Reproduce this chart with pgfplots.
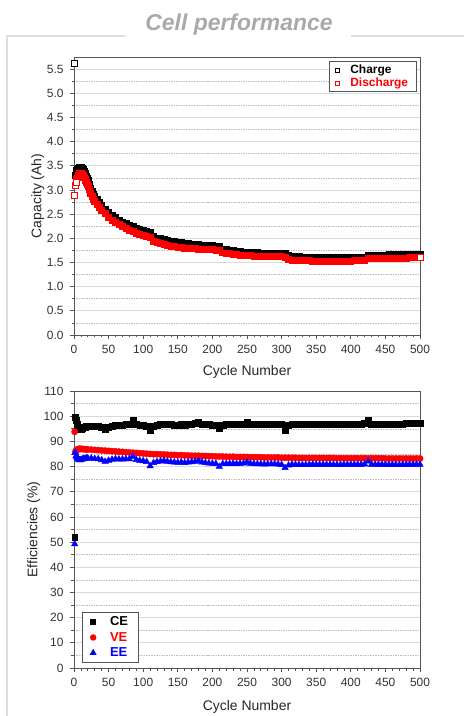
\documentclass[border=0pt]{standalone}
\usepackage{pgfplots}
\pgfplotsset{compat=1.18}
\usepackage{pgfplotstable}
\usepackage{fontspec}
\setmainfont{Liberation Sans}
\definecolor{framegray}{HTML}{DDDDDD}
\definecolor{titlegray}{HTML}{A9A9A9}
\definecolor{axgray}{HTML}{555555}
\definecolor{tickgray}{HTML}{333333}

\pgfplotstableread{
cycle charge discharge
1 5.62 2.89
2 3.30 3.10
3 3.36 3.16
4 3.40 3.22
5 3.43 3.27
6 3.45 3.31
7 3.46 3.33
8 3.47 3.35
9 3.47 3.35
10 3.47 3.35
11 3.46 3.34
12 3.45 3.33
13 3.43 3.31
14 3.41 3.29
15 3.38 3.26
16 3.35 3.23
17 3.32 3.20
18 3.28 3.16
19 3.24 3.12
20 3.20 3.08
22 3.12 3.01
24 3.04 2.94
26 2.97 2.87
28 2.91 2.81
30 2.86 2.76
33 2.80 2.70
36 2.74 2.64
40 2.68 2.58
45 2.61 2.51
50 2.54 2.44
55 2.48 2.38
60 2.43 2.33
65 2.38 2.28
70 2.34 2.24
75 2.31 2.21
80 2.27 2.17
85 2.24 2.14
90 2.21 2.11
95 2.19 2.09
100 2.17 2.07
105 2.15 2.05
110 2.12 2.02
115 2.04 1.94
120 2.01 1.91
125 1.99 1.89
130 1.97 1.87
135 1.95 1.86
140 1.94 1.84
145 1.93 1.83
150 1.92 1.82
155 1.91 1.81
160 1.90 1.80
165 1.89 1.80
170 1.88 1.79
175 1.87 1.79
180 1.87 1.78
185 1.86 1.78
190 1.86 1.77
195 1.85 1.77
200 1.85 1.77
205 1.84 1.76
210 1.84 1.76
215 1.78 1.70
220 1.77 1.69
225 1.76 1.68
230 1.75 1.67
235 1.74 1.66
240 1.73 1.65
245 1.72 1.65
250 1.72 1.64
255 1.71 1.64
260 1.71 1.63
265 1.71 1.63
270 1.70 1.63
275 1.70 1.62
280 1.70 1.62
285 1.70 1.62
290 1.70 1.62
295 1.70 1.62
300 1.70 1.62
305 1.69 1.61
310 1.64 1.56
315 1.63 1.55
320 1.62 1.55
325 1.62 1.54
330 1.61 1.54
335 1.61 1.54
340 1.60 1.54
345 1.60 1.53
350 1.60 1.53
355 1.60 1.53
360 1.60 1.53
365 1.60 1.53
370 1.60 1.53
375 1.60 1.53
380 1.60 1.53
385 1.60 1.53
390 1.60 1.53
395 1.60 1.53
400 1.60 1.53
405 1.60 1.54
410 1.60 1.54
415 1.60 1.54
420 1.61 1.54
425 1.65 1.58
430 1.65 1.58
435 1.65 1.58
440 1.65 1.58
445 1.65 1.58
450 1.65 1.58
455 1.66 1.58
460 1.66 1.59
465 1.66 1.59
470 1.66 1.59
475 1.66 1.59
480 1.67 1.59
485 1.67 1.60
490 1.67 1.60
495 1.67 1.60
500 1.67 1.60
}\captable

\pgfplotstableread{
cycle CE VE EE
1 52.0 93.8 49.2
2 99.5 85.8 85.6
3 98.5 86.4 84.2
4 97.0 86.6 83.8
5 96.0 86.8 83.3
6 95.5 86.9 83.0
7 95.2 87.0 82.8
8 95.0 87.0 82.6
9 94.9 87.0 82.6
10 95.0 87.0 82.7
12 95.3 87.0 82.9
14 95.6 86.9 83.1
16 95.8 86.9 83.2
18 96.0 86.8 83.3
20 96.0 86.8 83.3
25 96.1 86.7 83.3
30 96.0 86.6 83.1
35 96.0 86.5 83.0
40 95.6 86.4 82.6
45 95.0 86.3 82.0
50 95.6 86.2 82.4
55 96.2 86.1 82.8
60 96.5 86.0 83.0
65 96.5 85.9 82.9
70 96.6 85.8 82.9
75 96.8 85.7 83.0
80 97.0 85.6 83.0
85 98.3 85.5 84.0
90 96.8 85.4 82.7
95 96.6 85.3 82.4
100 96.5 85.2 82.2
105 96.2 85.1 81.9
110 94.4 85.0 80.2
115 96.0 84.9 81.5
120 96.5 84.9 81.9
125 96.8 84.8 82.1
130 97.0 84.8 82.3
135 96.8 84.7 82.0
140 96.7 84.6 81.8
145 96.6 84.6 81.7
150 96.6 84.5 81.6
155 96.7 84.5 81.7
160 96.6 84.4 81.5
165 96.8 84.4 81.7
170 97.0 84.3 81.8
175 97.3 84.3 82.0
180 97.7 84.3 82.3
185 97.0 84.2 81.7
190 96.8 84.2 81.5
195 96.7 84.1 81.3
200 96.6 84.1 81.2
205 96.5 84.0 81.1
210 95.3 84.0 80.0
215 96.5 84.0 81.1
220 96.7 83.9 81.1
225 96.8 83.9 81.2
230 96.8 83.9 81.2
235 96.8 83.8 81.1
240 96.9 83.8 81.2
245 97.0 83.8 81.3
250 97.6 83.8 81.8
255 97.0 83.7 81.2
260 96.9 83.7 81.1
265 96.8 83.7 81.0
270 96.8 83.7 81.0
275 96.8 83.6 80.9
280 96.9 83.6 81.0
285 96.9 83.6 81.0
290 96.9 83.6 81.0
295 96.8 83.6 80.9
300 96.7 83.5 80.7
305 94.6 83.5 79.5
310 96.4 83.5 80.5
315 96.8 83.5 80.8
320 96.8 83.5 80.8
325 96.8 83.4 80.7
330 96.8 83.4 80.7
335 96.8 83.4 80.7
340 96.9 83.4 80.8
345 96.9 83.4 80.8
350 96.9 83.4 80.8
355 96.9 83.4 80.8
360 96.9 83.4 80.8
365 96.9 83.4 80.8
370 96.9 83.4 80.8
375 96.9 83.4 80.8
380 96.9 83.3 80.7
385 96.9 83.3 80.7
390 97.0 83.3 80.8
395 97.0 83.3 80.8
400 97.0 83.3 80.8
405 97.0 83.3 80.8
410 97.0 83.3 80.8
415 97.0 83.3 80.8
420 97.1 83.3 80.9
425 98.6 83.3 82.1
430 97.0 83.3 80.8
435 97.0 83.3 80.8
440 97.0 83.3 80.8
445 97.0 83.3 80.8
450 97.0 83.2 80.7
455 97.0 83.2 80.7
460 97.0 83.2 80.7
465 97.0 83.2 80.7
470 97.0 83.2 80.7
475 97.0 83.2 80.7
480 97.1 83.2 80.8
485 97.1 83.2 80.8
490 97.1 83.2 80.8
495 97.1 83.2 80.8
500 97.1 83.2 80.8
}\efftable

\pgfplotsset{
  cellstyle/.style={
    scale only axis, width=346bp, clip=false,
    xmin=0, xmax=500, xtick={0,50,...,500}, minor x tick num=4,
    tick pos=left, tick align=outside,
    major tick length=4bp, minor tick length=2.5bp,
    axis line style={axgray, line width=0.8pt},
    every tick/.style={axgray, line width=0.7pt},
    ymajorgrids, yminorgrids,
    major grid style={black!15, line width=0.8pt},
    minor grid style={black!25, line width=0.5pt, dash pattern=on 1.5pt off 1pt},
    tick label style={font=\fontsize{12}{14}\selectfont, text=tickgray},
    xticklabel style={yshift=-3bp},
    yticklabel style={xshift=-3bp},
    /pgf/number format/assume math mode=true,
    xlabel={Cycle Number},
    label style={font=\fontsize{14}{16}\selectfont, text=black!85},
    legend cell align=left,
  },
}

\begin{document}
\begin{tikzpicture}
\useasboundingbox (0,0) rectangle (464bp,716bp);
\draw[framegray, line width=1.2pt] (7bp,0) -- (7bp,680bp) -- (125bp,680bp);
\draw[framegray, line width=1.2pt] (351bp,680bp) -- (464bp,680bp);
\node[anchor=base, text=titlegray, font=\fontsize{23}{27}\selectfont\bfseries\itshape] at (239bp,685bp) {Cell performance};

\begin{axis}[cellstyle,
  at={(74bp,381bp)}, anchor=south west, height=278bp,
  ymin=0, ymax=5.75, ytick={0,0.5,...,5.5}, minor y tick num=1,
  yticklabel style={/pgf/number format/.cd, fixed, fixed zerofill, precision=1},
  ylabel={Capacity (Ah)},
  ylabel style={at={(axis description cs:-0.105,0.5)}, anchor=center},
  xlabel style={at={(axis description cs:0.5,-0.147)}, anchor=base},
  legend style={at={(rel axis cs:0.99,0.985)}, anchor=north east,
    draw=axgray, line width=0.8pt, font=\fontsize{12}{14}\selectfont\bfseries,
    inner xsep=6bp, inner ysep=1.5pt, row sep=-1pt, column sep=9bp},
]
\addplot[only marks, mark=square*, mark size=3pt, mark options={draw=black, fill=black, line width=0.6pt}, forget plot] table[x=cycle, y=charge] {\captable};
\addplot[only marks, mark=square*, mark size=3pt, mark options={draw=red, fill=red, line width=0.6pt}, forget plot] table[x=cycle, y=discharge] {\captable};
\addplot[only marks, mark=square*, mark size=3pt, mark options={draw=black, fill=white, line width=0.6pt}, restrict x to domain=0:1.5, forget plot] table[x=cycle, y=charge] {\captable};
\addplot[only marks, mark=square*, mark size=3pt, mark options={draw=red, fill=white, line width=0.6pt}, restrict x to domain=0:3.5, forget plot] table[x=cycle, y=discharge] {\captable};
\addplot[only marks, mark=square*, mark size=3pt, mark options={draw=red, fill=white, line width=0.6pt}, restrict x to domain=499:501, forget plot] table[x=cycle, y=discharge] {\captable};
\addlegendimage{only marks, mark=square, mark size=2pt, black, line width=0.6pt}
\addlegendentry{Charge}
\addlegendimage{only marks, mark=square, mark size=2pt, red, line width=0.6pt}
\addlegendentry{\textcolor{red}{Discharge}}
\end{axis}

\begin{axis}[cellstyle,
  at={(74bp,48bp)}, anchor=south west, height=277bp,
  ymin=0, ymax=110, ytick={0,10,...,110}, minor y tick num=1,
  ylabel={Efficiencies (\%)},
  ylabel style={at={(axis description cs:-0.116,0.5)}, anchor=center},
  xlabel style={at={(axis description cs:0.5,-0.155)}, anchor=base},
  legend style={at={(rel axis cs:0.023,0.02)}, anchor=south west,
    draw=axgray, line width=0.8pt, font=\fontsize{13}{15}\selectfont\bfseries,
    inner xsep=8bp, inner ysep=2pt, row sep=1pt, column sep=12bp},
]
\addplot[only marks, mark=square*, mark size=3pt, black, forget plot] table[x=cycle, y=CE] {\efftable};
\addplot[only marks, mark=*, mark size=3.2pt, red, forget plot] table[x=cycle, y=VE] {\efftable};
\addplot[only marks, mark=triangle*, mark size=3.8pt, blue, forget plot] table[x=cycle, y=EE] {\efftable};
\addlegendimage{only marks, mark=square*, mark size=2.5pt, black}
\addlegendentry{CE}
\addlegendimage{only marks, mark=*, mark size=2.8pt, red}
\addlegendentry{\textcolor{red}{VE}}
\addlegendimage{only marks, mark=triangle*, mark size=3.3pt, blue}
\addlegendentry{\textcolor{blue}{EE}}
\end{axis}
\end{tikzpicture}
\end{document}
